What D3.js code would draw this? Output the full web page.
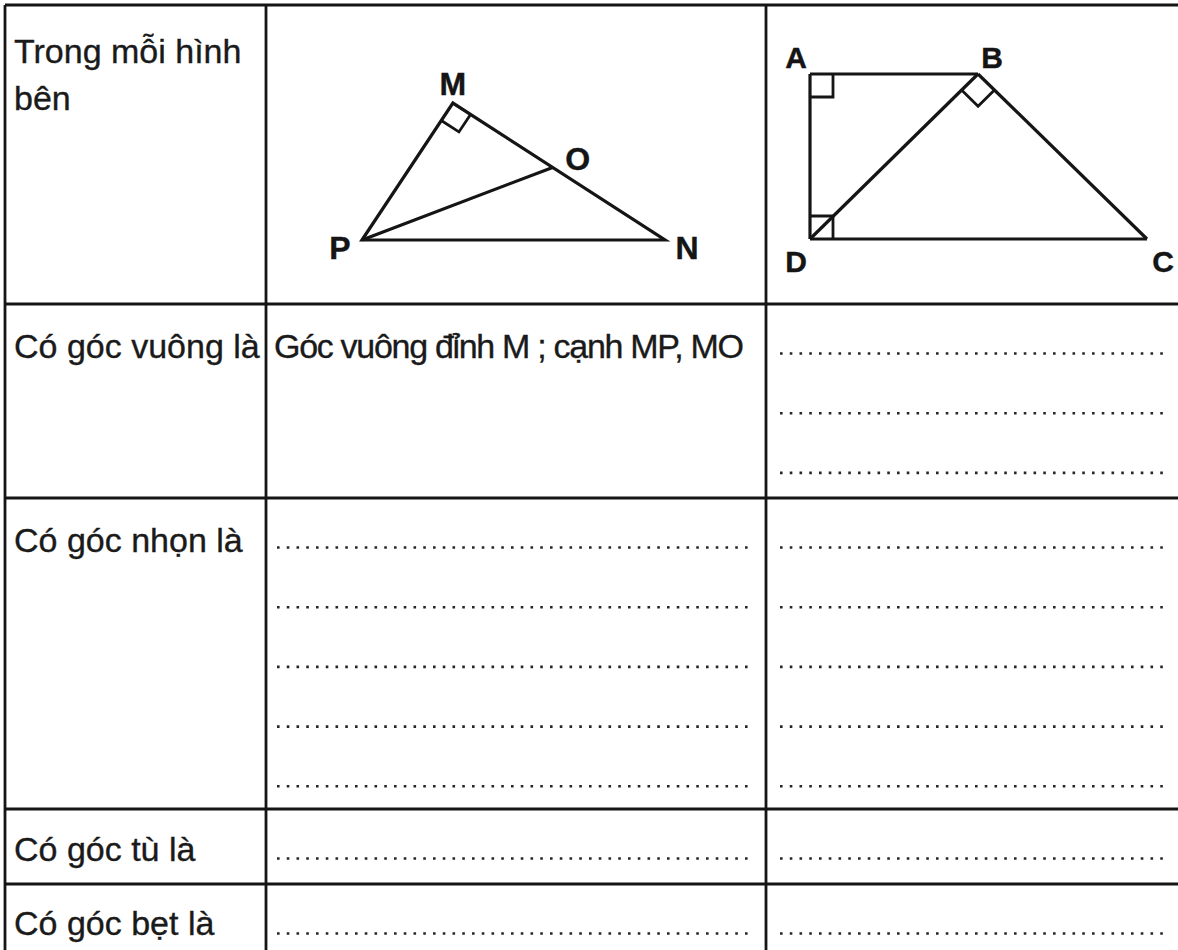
<!DOCTYPE html>
<html><head><meta charset="utf-8">
<script src="https://cdn.jsdelivr.net/npm/d3@7"></script>
<style>body{margin:0;background:#fff}svg{display:block}</style>
</head><body><svg id="c"></svg>
<script>
// ---- data ----
const rowLabels = [["Trong mỗi hình", "bên"], ["Có góc vuông là"], ["Có góc nhọn là"], ["Có góc tù là"], ["Có góc bẹt là"]];
const answerText = ["", "Góc vuông đỉnh M ; cạnh MP, MO", "", "", ""];
const dotLinesCol2 = [0, 0, 5, 1, 1];
const dotLinesCol3 = [0, 3, 5, 1, 1];
const triPoints = [{id: "P", x: 0, y: 0}, {id: "N", x: 100, y: 0}, {id: "M", x: 30, y: 45.2}];
const triOFraction = 0.47; // O on MN
const quadPoints = [{id: "A", x: 0, y: 165}, {id: "B", x: 168, y: 165}, {id: "C", x: 337, y: 0}, {id: "D", x: 0, y: 0}];
const quadSegments = [["A", "B"], ["A", "D"], ["D", "C"], ["D", "B"], ["B", "C"]];
const quadRight = [["A", "B", "D"], ["B", "D", "C"], ["D", "A", "C"]];

// ---- layout ----
const W = 1178, H = 950;
const colEdges = [5, 266, 766, 1240];
const rowEdges = [5, 304, 498, 809, 884, 1010];
const ink = "#151515";
const svg = d3.select("#c").attr("width", W).attr("height", H);
svg.append("rect").attr("width", W).attr("height", H).attr("fill", "#fff");

// grid lines
const g = svg.append("g").attr("stroke", ink).attr("stroke-width", 2.8);
rowEdges.forEach(y => g.append("line").attr("x1", colEdges[0]).attr("x2", colEdges[3]).attr("y1", y).attr("y2", y));
colEdges.forEach(x => g.append("line").attr("x1", x).attr("x2", x).attr("y1", rowEdges[0]).attr("y2", rowEdges[5]));

// row labels
const font = "'Liberation Sans', Arial, sans-serif";
const labelBase = [63, 358, 552, 861, 935];
rowLabels.forEach((lines, i) => {
  lines.forEach((t, j) => {
    svg.append("text").attr("x", 14).attr("y", labelBase[i] + j * 47)
      .attr("font-family", font).attr("font-size", 34).attr("fill", "#1a1a1a")
      .attr("stroke", "#1a1a1a").attr("stroke-width", 0.35).text(t);
  });
  if (answerText[i]) {
    svg.append("text").attr("x", 274).attr("y", labelBase[i])
      .attr("font-family", font).attr("font-size", 34).attr("letter-spacing", -1.3)
      .attr("fill", "#1a1a1a").attr("stroke", "#1a1a1a").attr("stroke-width", 0.35)
      .text(answerText[i]);
  }
});

// dotted answer lines
function dots(count, rowIdx, x1, x2) {
  const top = rowEdges[rowIdx];
  const yS = d3.scaleLinear().domain([0, 1]).range([top + 49.5, top + 49.5 + 59.7]);
  d3.range(count).forEach(k => {
    svg.append("line").attr("x1", x1).attr("x2", x2).attr("y1", yS(k)).attr("y2", yS(k))
      .attr("stroke", "#262626").attr("stroke-width", 2.6).attr("stroke-dasharray", "2.6 7.15");
  });
}
dotLinesCol2.forEach((n, i) => dots(n, i, 277, 749));
dotLinesCol3.forEach((n, i) => dots(n, i, 780, 1170));

// ---- triangle MNP ----
const tx = d3.scaleLinear().domain([0, 100]).range([362, 665]);
const ty = d3.scaleLinear().domain([0, 100]).range([240, -63]);
const T = {};
triPoints.forEach(p => T[p.id] = [tx(p.x), ty(p.y)]);
T.O = [T.M[0] + triOFraction * (T.N[0] - T.M[0]), T.M[1] + triOFraction * (T.N[1] - T.M[1])];
const line = d3.line();
const fig = svg.append("g").attr("fill", "none").attr("stroke", ink).attr("stroke-width", 3.2).attr("stroke-linejoin", "miter");
fig.append("path").attr("d", line([T.P, T.M, T.N, T.P]) + "Z");
fig.append("path").attr("d", line([T.P, T.O]));

function rightMark(V, A, B, s) {
  const u = [A[0] - V[0], A[1] - V[1]], w = [B[0] - V[0], B[1] - V[1]];
  const lu = Math.hypot(...u), lw = Math.hypot(...w);
  const a = [V[0] + u[0] / lu * s, V[1] + u[1] / lu * s];
  const b = [V[0] + w[0] / lw * s, V[1] + w[1] / lw * s];
  const c = [a[0] + w[0] / lw * s, a[1] + w[1] / lw * s];
  fig.append("path").attr("d", line([a, c, b])).attr("stroke-width", 2.8);
}
rightMark(T.M, T.P, T.N, 21);

// ---- quadrilateral ABCD ----
const qx = d3.scaleLinear().domain([0, 337]).range([810, 1147]);
const qy = d3.scaleLinear().domain([0, 165]).range([239, 74]);
const Q = {};
quadPoints.forEach(p => Q[p.id] = [qx(p.x), qy(p.y)]);
quadSegments.forEach(([a, b]) => fig.append("path").attr("d", line([Q[a], Q[b]])));
quadRight.forEach(([v, a, b]) => rightMark(Q[v], Q[a], Q[b], 23));

// vertex labels
const lab = svg.append("g").attr("font-family", font).attr("font-weight", "bold")
  .attr("fill", ink).attr("stroke", ink).attr("stroke-width", 0.4).attr("text-anchor", "middle");
const labelOffsets = {M: [0, -8, 32], O: [25, 3, 32], P: [-22, 19, 32], N: [22, 19, 32],
  A: [-14, -6, 30], B: [14, -6, 30], D: [-14, 33, 30], C: [16, 33, 30]};
Object.entries(labelOffsets).forEach(([k, o]) => {
  const p = T[k] || Q[k];
  lab.append("text").attr("x", p[0] + o[0]).attr("y", p[1] + o[1]).attr("font-size", o[2]).text(k);
});
</script></body></html>
